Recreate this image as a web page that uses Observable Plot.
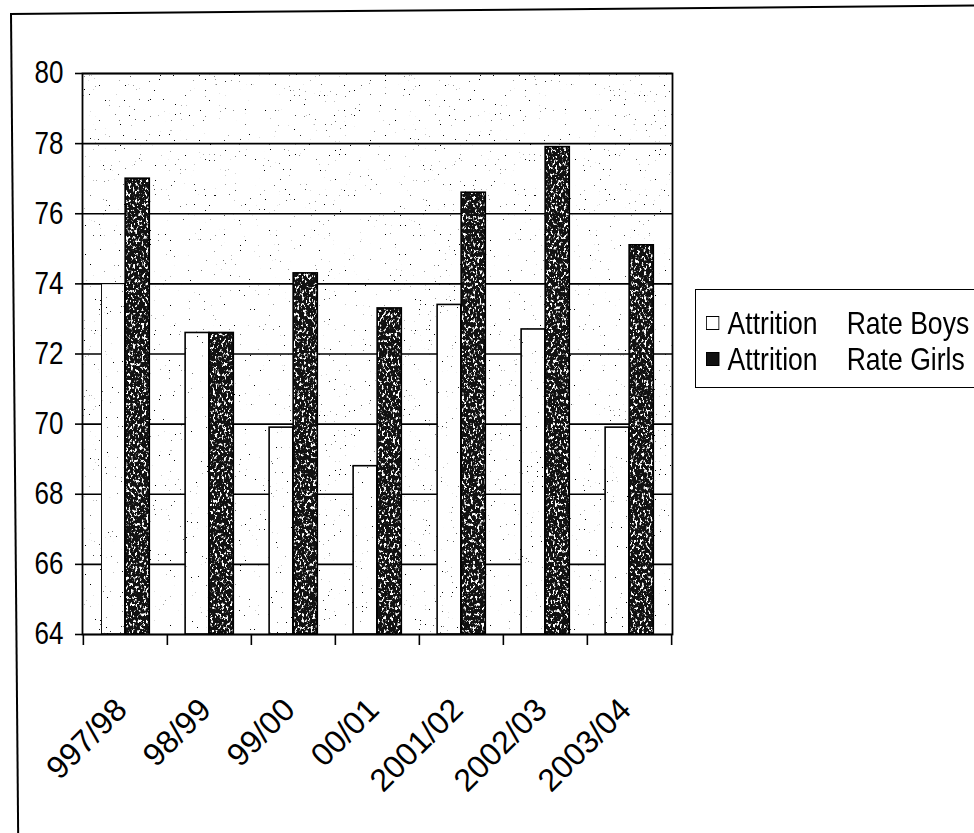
<!DOCTYPE html>
<html>
<head>
<meta charset="utf-8">
<script src="https://cdn.jsdelivr.net/npm/d3@7"></script>
<script src="https://cdn.jsdelivr.net/npm/@observablehq/plot@0.6"></script>
<style>
  html, body { margin: 0; padding: 0; background: #fff; overflow: hidden; width: 974px; height: 833px; }
  #wrap { position: relative; width: 974px; height: 833px; overflow: hidden; }
  #chart { position: absolute; left: 0; top: 0; }
  #border { position: absolute; left: 10px; top: 13px; width: 1000px; height: 900px;
            border-left: 2px solid #000; border-top: 2px solid #000; transform: rotate(-0.5deg); transform-origin: 0 0; }
  #legend { position: absolute; left: 695px; top: 289px; width: 320px; height: 97px;
            border: 1.5px solid #000; background: #fff;
            font-family: 'Liberation Sans', Arial, sans-serif;
            font-size: 32px; color: #000; }
  .row { position: absolute; left: 10px; display: flex; align-items: center; white-space: nowrap; line-height: 1;
         transform: scaleX(0.83); transform-origin: 0 50%; }
  .sym { width: 16px; height: 14px; border: 1.8px solid #000; margin-right: 10px; box-sizing: border-box; }
  .gap { margin-left: 35px; }
</style>
</head>
<body>
<div id="wrap">
  <div id="chart"></div>
  <div id="border"></div>
  <div id="legend"></div>
</div>
<script>
// ---- data ----
const categories = ["997/98", "98/99", "99/00", "00/01", "2001/02", "2002/03", "2003/04"];
const boysRate  = [74.0, 72.6, 69.9, 68.8, 73.4, 72.7, 69.9];
const girlsRate = [77.0, 72.6, 74.3, 73.3, 76.6, 77.9, 75.1];
const seriesNames = [["Attrition", "Rate Boys"], ["Attrition", "Rate Girls"]];
const yTicks = [64, 66, 68, 70, 72, 74, 76, 78, 80];
const yMin = 64, yMax = 80;

const boysData  = categories.map((c, i) => ({cat: c, value: boysRate[i]}));
const girlsData = categories.map((c, i) => ({cat: c, value: girlsRate[i]}));

const W = 974, H = 833, mL = 82, mR = 302, mT = 73, mB = 199;
const bw = (W - mL - mR) / categories.length;
const font = "'Liberation Sans', Arial, sans-serif";

const plot = Plot.plot({
  width: W, height: H,
  marginLeft: mL, marginRight: mR, marginTop: mT, marginBottom: mB,
  style: {fontFamily: font, background: "transparent", color: "#000"},
  x: {domain: categories, padding: 0, axis: null},
  y: {domain: [yMin, yMax], axis: null},
  marks: [
    Plot.frame({fill: "#fff", className: "bg"}),
    Plot.gridY(yTicks, {stroke: "#000", strokeOpacity: 1, strokeWidth: 1.6}),
    Plot.barY(boysData, {x: "cat", y1: () => yMin, y2: "value", fill: "#fff", stroke: "#000", strokeWidth: 1.6,
      insetLeft: 0.215 * bw, insetRight: 0.5 * bw, className: "boys"}),
    Plot.barY(girlsData, {x: "cat", y1: () => yMin, y2: "value", fill: "#111",
      insetLeft: 0.5 * bw, insetRight: 0.21 * bw, className: "girls"}),
    Plot.barY(girlsData, {x: "cat", y1: () => yMin, y2: "value", fill: "none", stroke: "#000", strokeWidth: 1.6,
      insetLeft: 0.5 * bw, insetRight: 0.21 * bw}),
    Plot.frame({stroke: "#000", strokeWidth: 1.8}),
    Plot.axisY(yTicks, {anchor: "left", tickSize: 7, tickPadding: 12, fontSize: 31, strokeWidth: 1.6, label: null, className: "narrow"}),
    Plot.axisX({anchor: "bottom", tickSize: 11, strokeWidth: 1.6, tickFormat: () => "", dx: -bw / 2, label: null}),
    Plot.axisX([categories[categories.length - 1]], {anchor: "bottom", tickSize: 11, strokeWidth: 1.6, tickFormat: () => "", dx: bw / 2, label: null}),
    Plot.axisX({anchor: "bottom", tickSize: 0, tickPadding: 70, tickRotate: -45, fontSize: 32, dx: -4, label: null})
  ]
});
document.getElementById("chart").appendChild(plot);

// narrow (Arial Narrow-like) y-axis text: scale horizontally around its anchor x
plot.querySelectorAll(".narrow text").forEach(t => {
  const xa = parseFloat(t.getAttribute("x")) || 0;
  const tr = t.getAttribute("transform") || "";
  t.setAttribute("transform", `${tr} translate(${xa},0) scale(0.84,1) translate(${-xa},0)`);
});

// textures (scan-like speckle)
const ns = "http://www.w3.org/2000/svg";
const defs = document.createElementNS(ns, "defs");
defs.innerHTML = `
  <filter id="girlsTex" x="0" y="0" width="100%" height="100%" color-interpolation-filters="sRGB">
    <feTurbulence type="fractalNoise" baseFrequency="0.45 0.3" numOctaves="3" seed="7" result="n"/>
    <feColorMatrix in="n" type="matrix" values="0 0 0 0 1  0 0 0 0 1  0 0 0 0 1  9 0 0 0 -4.95" result="w"/>
    <feComposite in="w" in2="SourceGraphic" operator="in" result="wi"/>
    <feMerge><feMergeNode in="SourceGraphic"/><feMergeNode in="wi"/></feMerge>
  </filter>
  <filter id="bgTex" x="0" y="0" width="100%" height="100%" color-interpolation-filters="sRGB">
    <feTurbulence type="fractalNoise" baseFrequency="0.8" numOctaves="1" seed="3" result="n"/>
    <feColorMatrix in="n" type="matrix" values="0 0 0 0 0  0 0 0 0 0  0 0 0 0 0  22 0 0 0 -16.1" result="d"/>
    <feComposite in="d" in2="SourceGraphic" operator="in" result="di"/>
    <feMerge><feMergeNode in="SourceGraphic"/><feMergeNode in="di"/></feMerge>
  </filter>`;
plot.insertBefore(defs, plot.firstChild);
const g = plot.querySelector("g.girls"); if (g) g.setAttribute("filter", "url(#girlsTex)");
const bg = plot.querySelector(".bg"); if (bg) bg.setAttribute("filter", "url(#bgTex)");
const b = plot.querySelector("g.boys"); if (b) b.setAttribute("filter", "url(#bgTex)");

// legend
const legend = document.getElementById("legend");
seriesNames.forEach((parts, i) => {
  const row = document.createElement("div");
  row.className = "row";
  row.style.top = (i === 0 ? 17 : 53) + "px";
  const sym = document.createElement("div");
  sym.className = "sym";
  sym.style.background = i === 0 ? "#fff" : "#111";
  row.appendChild(sym);
  const a = document.createElement("span"); a.textContent = parts[0]; row.appendChild(a);
  const r = document.createElement("span"); r.className = "gap"; r.textContent = parts[1]; row.appendChild(r);
  legend.appendChild(row);
});
</script>
</body>
</html>
